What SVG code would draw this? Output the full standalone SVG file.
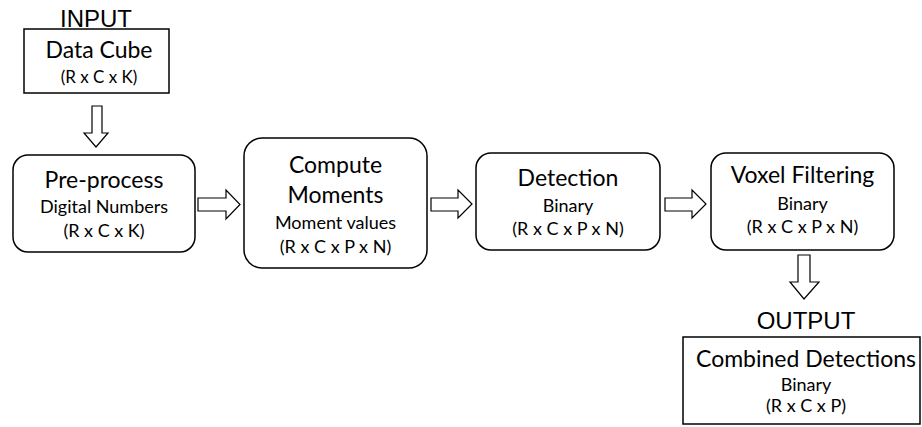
<svg xmlns="http://www.w3.org/2000/svg" width="922" height="427" viewBox="0 0 922 427">
<style>
.box{fill:#fff;stroke:#000;stroke-width:1.5}
.arr{fill:#fff;stroke:#000;stroke-width:1.2;stroke-linejoin:miter}
.io{font-family:"Liberation Sans",Arial,sans-serif;font-size:24px;fill:#000;text-anchor:middle}
.t{font-family:Lato,"Open Sans",sans-serif;font-size:23px;fill:#000;text-anchor:middle}
.s{font-family:Lato,"Open Sans",sans-serif;font-size:18px;fill:#000;text-anchor:middle}
.ss{font-family:Lato,"Open Sans",sans-serif;font-size:17px;fill:#000;text-anchor:middle}
</style>
<rect width="922" height="427" fill="#fff"/>
<g id="input">
<text class="io" x="96" y="27">INPUT</text>
<rect class="box" x="24" y="29" width="145" height="64"/>
<text class="t" x="99" y="58">Data Cube</text>
<text class="ss" x="99" y="83">(R x C x K)</text>
</g>
<g id="preprocess">
<rect class="box" x="13" y="155" width="182" height="97" rx="15"/>
<text class="t" x="104" y="188">Pre-process</text>
<text class="s" x="104" y="213">Digital Numbers</text>
<text class="s" x="104" y="237">(R x C x K)</text>
</g>
<g id="moments">
<rect class="box" x="244" y="138" width="183" height="130" rx="18"/>
<text class="t" x="335.5" y="173">Compute</text>
<text class="t" x="335.5" y="203">Moments</text>
<text class="s" x="335.5" y="229">Moment values</text>
<text class="s" x="335.5" y="253">(R x C x P x N)</text>
</g>
<g id="detection">
<rect class="box" x="476" y="153" width="184" height="97" rx="15"/>
<text class="t" x="568" y="186">Detection</text>
<text class="s" x="568" y="212">Binary</text>
<text class="s" x="568" y="235">(R x C x P x N)</text>
</g>
<g id="voxel">
<rect class="box" x="711" y="153" width="183" height="97" rx="15"/>
<text class="t" x="802.5" y="183">Voxel Filtering</text>
<text class="s" x="802.5" y="210">Binary</text>
<text class="s" x="802.5" y="233">(R x C x P x N)</text>
</g>
<g id="output">
<text class="io" x="806" y="329">OUTPUT</text>
<rect class="box" x="683" y="337" width="237" height="87"/>
<text class="t" x="806" y="367">Combined Detections</text>
<text class="s" x="806" y="391">Binary</text>
<text class="s" x="806" y="412">(R x C x P)</text>
</g>
<g id="connectors">
<path class="arr" d="M92,106 H102 V133 H108 L96,147 L84,133 H92 Z"/>
<path class="arr" d="M198,198 H226 V190 L240,204.5 L226,219 V211 H198 Z"/>
<path class="arr" d="M431,198 H458 V190 L472,204 L458,218 V211 H431 Z"/>
<path class="arr" d="M665,198 H692 V190 L706,204 L692,218 V211 H665 Z"/>
<path class="arr" d="M798,255 H810 V282 H819 L804,299 L790,282 H798 Z"/>
</g>
</svg>
